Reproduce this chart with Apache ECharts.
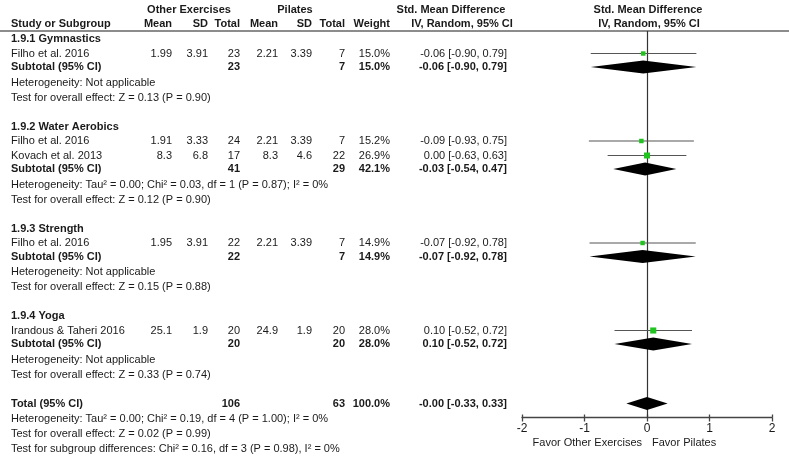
<!DOCTYPE html>
<html>
<head>
<meta charset="utf-8">
<script src="https://cdn.jsdelivr.net/npm/echarts@6/dist/echarts.min.js"></script>
<style>
html, body { margin: 0; padding: 0; background: #fff; }
#main { width: 789px; height: 457px; }
</style>
</head>
<body>
<div id="main"></div>
<script>
// 数据
var groupNames = ['1.9.1 Gymnastics', '1.9.2 Water Aerobics', '1.9.3 Strength', '1.9.4 Yoga'];
var studyNames = ['Filho et al. 2016', 'Filho et al. 2016', 'Kovach et al. 2013', 'Filho et al. 2016', 'Irandous & Taheri 2016'];
var studyGroup = [0, 1, 1, 2, 3];
var otherMean = [1.99, 1.91, 8.3, 1.95, 25.1];
var otherSD = [3.91, 3.33, 6.8, 3.91, 1.9];
var otherN = [23, 24, 17, 22, 20];
var pilMean = [2.21, 2.21, 8.3, 2.21, 24.9];
var pilSD = [3.39, 3.39, 4.6, 3.39, 1.9];
var pilN = [7, 7, 22, 7, 20];
var studyWeight = [15.0, 15.2, 26.9, 14.9, 28.0];
var studySMD = [-0.06, -0.09, 0.00, -0.07, 0.10];
var studyLo = [-0.90, -0.93, -0.63, -0.92, -0.52];
var studyHi = [0.79, 0.75, 0.63, 0.78, 0.72];

var subOtherN = [23, 41, 22, 20];
var subPilN = [7, 29, 7, 20];
var subWeight = [15.0, 42.1, 14.9, 28.0];
var subSMD = [-0.06, -0.03, -0.07, 0.10];
var subLo = [-0.90, -0.54, -0.92, -0.52];
var subHi = [0.79, 0.47, 0.78, 0.72];
var subHet = [
    'Heterogeneity: Not applicable',
    'Heterogeneity: Tau² = 0.00; Chi² = 0.03, df = 1 (P = 0.87); I² = 0%',
    'Heterogeneity: Not applicable',
    'Heterogeneity: Not applicable'
];
var subTest = [
    'Test for overall effect: Z = 0.13 (P = 0.90)',
    'Test for overall effect: Z = 0.12 (P = 0.90)',
    'Test for overall effect: Z = 0.15 (P = 0.88)',
    'Test for overall effect: Z = 0.33 (P = 0.74)'
];

var totalOtherN = 106;
var totalPilN = 63;
var totalWeight = 100.0;
var totalSMD = -0.00;
var totalLo = -0.33;
var totalHi = 0.33;
var totalNotes = [
    'Heterogeneity: Tau² = 0.00; Chi² = 0.19, df = 4 (P = 1.00); I² = 0%',
    'Test for overall effect: Z = 0.02 (P = 0.99)',
    'Test for subgroup differences: Chi² = 0.16, df = 3 (P = 0.98), I² = 0%'
];

var axisTicks = [-2, -1, 0, 1, 2];
var favorLeft = 'Favor Other Exercises';
var favorRight = 'Favor Pilates';

// 行的位置
var groupY = [], studyY = [], subY = [], hetY = [], testY = [];
var y = 39;
groupNames.forEach(function (g, gi) {
    groupY.push(y);
    y += 14.5;
    studyGroup.forEach(function (sg, si) {
        if (sg === gi) { studyY[si] = y; y += 14.5; }
    });
    subY.push(y - 1);
    hetY.push(y + 14.5);
    testY.push(y + 29.5);
    y += 58.5;
});
var totalY = y;

function fmt(v) {
    return ((v < 0 || Object.is(v, -0)) ? '-' : '') + Math.abs(v).toFixed(2);
}
function ci(v, lo, hi) {
    return fmt(v) + ' [' + fmt(lo) + ', ' + fmt(hi) + ']';
}

var FONT = '"Liberation Sans", Arial, sans-serif';
var INK = '#1a1a1a';
function txt(x, y, s, align, bold) {
    return {
        type: 'text', x: x, y: y, silent: true,
        style: {
            text: String(s), fill: INK,
            font: (bold ? 'bold ' : '') + '11px ' + FONT,
            textAlign: align || 'left', align: align || 'left',
            textVerticalAlign: 'middle', verticalAlign: 'middle'
        }
    };
}

// 表格列
var colX = { name: 11, m1: 172, sd1: 208, n1: 240, m2: 278, sd2: 312, n2: 345, w: 390, smd: 507 };

var g = [];
g.push(txt(189, 10, 'Other Exercises', 'center', true));
g.push(txt(295, 10, 'Pilates', 'center', true));
g.push(txt(451, 10, 'Std. Mean Difference', 'center', true));
g.push(txt(648, 10, 'Std. Mean Difference', 'center', true));
g.push(txt(colX.name, 24, 'Study or Subgroup', 'left', true));
g.push(txt(colX.m1, 24, 'Mean', 'right', true));
g.push(txt(colX.sd1, 24, 'SD', 'right', true));
g.push(txt(colX.n1, 24, 'Total', 'right', true));
g.push(txt(colX.m2, 24, 'Mean', 'right', true));
g.push(txt(colX.sd2, 24, 'SD', 'right', true));
g.push(txt(colX.n2, 24, 'Total', 'right', true));
g.push(txt(colX.w, 24, 'Weight', 'right', true));
g.push(txt(462, 24, 'IV, Random, 95% CI', 'center', true));
g.push(txt(649, 24, 'IV, Random, 95% CI', 'center', true));
g.push({
    type: 'line', silent: true,
    shape: { x1: 0, y1: 31, x2: 789, y2: 31 },
    style: { stroke: '#666', lineWidth: 1.3 }
});

groupNames.forEach(function (name, gi) {
    g.push(txt(colX.name, groupY[gi], name, 'left', true));
    g.push(txt(colX.name, subY[gi], 'Subtotal (95% CI)', 'left', true));
    g.push(txt(colX.n1, subY[gi], subOtherN[gi], 'right', true));
    g.push(txt(colX.n2, subY[gi], subPilN[gi], 'right', true));
    g.push(txt(colX.w, subY[gi], subWeight[gi].toFixed(1) + '%', 'right', true));
    g.push(txt(colX.smd, subY[gi], ci(subSMD[gi], subLo[gi], subHi[gi]), 'right', true));
    g.push(txt(colX.name, hetY[gi], subHet[gi], 'left', false));
    g.push(txt(colX.name, testY[gi], subTest[gi], 'left', false));
});
studyNames.forEach(function (name, i) {
    var yy = studyY[i];
    g.push(txt(colX.name, yy, name, 'left', false));
    g.push(txt(colX.m1, yy, otherMean[i], 'right', false));
    g.push(txt(colX.sd1, yy, otherSD[i], 'right', false));
    g.push(txt(colX.n1, yy, otherN[i], 'right', false));
    g.push(txt(colX.m2, yy, pilMean[i], 'right', false));
    g.push(txt(colX.sd2, yy, pilSD[i], 'right', false));
    g.push(txt(colX.n2, yy, pilN[i], 'right', false));
    g.push(txt(colX.w, yy, studyWeight[i].toFixed(1) + '%', 'right', false));
    g.push(txt(colX.smd, yy, ci(studySMD[i], studyLo[i], studyHi[i]), 'right', false));
});
g.push(txt(colX.name, totalY, 'Total (95% CI)', 'left', true));
g.push(txt(colX.n1, totalY, totalOtherN, 'right', true));
g.push(txt(colX.n2, totalY, totalPilN, 'right', true));
g.push(txt(colX.w, totalY, totalWeight.toFixed(1) + '%', 'right', true));
g.push(txt(colX.smd, totalY, ci(totalSMD, totalLo, totalHi), 'right', true));
totalNotes.forEach(function (s, k) {
    g.push(txt(colX.name, totalY + 15.5 + 15 * k, s, 'left', false));
});
g.push(txt(642, 443, favorLeft, 'right', false));
g.push(txt(652, 443, favorRight, 'left', false));

// 图形数据
var studyData = studyNames.map(function (n, i) {
    return [studyY[i], studySMD[i], studyLo[i], studyHi[i], studyWeight[i]];
});
var diamondData = groupNames.map(function (n, gi) {
    return [subY[gi], subSMD[gi], subLo[gi], subHi[gi]];
});
diamondData.push([totalY, totalSMD, totalLo, totalHi]);

var myChart = echarts.init(document.getElementById('main'));
var option = {
    backgroundColor: '#fff',
    animation: false,
    textStyle: { fontFamily: FONT },
    graphic: g,
    grid: { left: 522, right: 17, top: 31, bottom: 39.5 },
    xAxis: [{
        type: 'value', min: axisTicks[0], max: axisTicks[axisTicks.length - 1], interval: 1,
        position: 'bottom',
        axisLine: { show: true, lineStyle: { color: '#444', width: 1.3 } },
        axisTick: { show: true, length: 4, lineStyle: { color: '#444', width: 1.3 } },
        axisLabel: { fontSize: 12, color: INK, margin: 5, fontFamily: FONT },
        splitLine: { show: false }
    }, {
        type: 'value', min: axisTicks[0], max: axisTicks[axisTicks.length - 1], interval: 1,
        position: 'bottom',
        axisLine: { show: false },
        axisTick: { show: true, inside: true, length: 3, lineStyle: { color: '#444', width: 1.3 } },
        axisLabel: { show: false },
        splitLine: { show: false }
    }],
    yAxis: { type: 'value', min: 31, max: 417.5, inverse: true, show: false },
    series: [{
        type: 'custom',
        z: 2,
        data: [],
        renderItem: function () { return null; },
        markLine: {
            silent: true, symbol: 'none', animation: false,
            label: { show: false },
            lineStyle: { color: '#333', width: 1.2, type: 'solid' },
            data: [{ xAxis: 0 }]
        }
    }, {
        type: 'custom',
        z: 5,
        encode: { x: [1, 2, 3], y: 0 },
        data: studyData,
        renderItem: function (params, api) {
            var yy = api.value(0);
            var c = api.coord([api.value(1), yy]);
            var lo = api.coord([api.value(2), yy]);
            var hi = api.coord([api.value(3), yy]);
            var s = 1.15 * Math.sqrt(api.value(4));
            return {
                type: 'group',
                children: [{
                    type: 'line',
                    shape: { x1: lo[0], y1: c[1], x2: hi[0], y2: c[1] },
                    style: { stroke: '#555', lineWidth: 1.2 }
                }, {
                    type: 'rect',
                    shape: { x: c[0] - s / 2, y: c[1] - s / 2, width: s, height: s },
                    style: { fill: '#1fc41f' }
                }]
            };
        }
    }, {
        type: 'custom',
        z: 5,
        encode: { x: [1, 2, 3], y: 0 },
        data: diamondData,
        renderItem: function (params, api) {
            var yy = api.value(0);
            var c = api.coord([api.value(1), yy]);
            var lo = api.coord([api.value(2), yy]);
            var hi = api.coord([api.value(3), yy]);
            return {
                type: 'polygon',
                shape: { points: [[lo[0], c[1]], [c[0], c[1] - 6.5], [hi[0], c[1]], [c[0], c[1] + 6.5]] },
                style: { fill: '#000' }
            };
        }
    }]
};
myChart.setOption(option);
</script>
</body>
</html>
